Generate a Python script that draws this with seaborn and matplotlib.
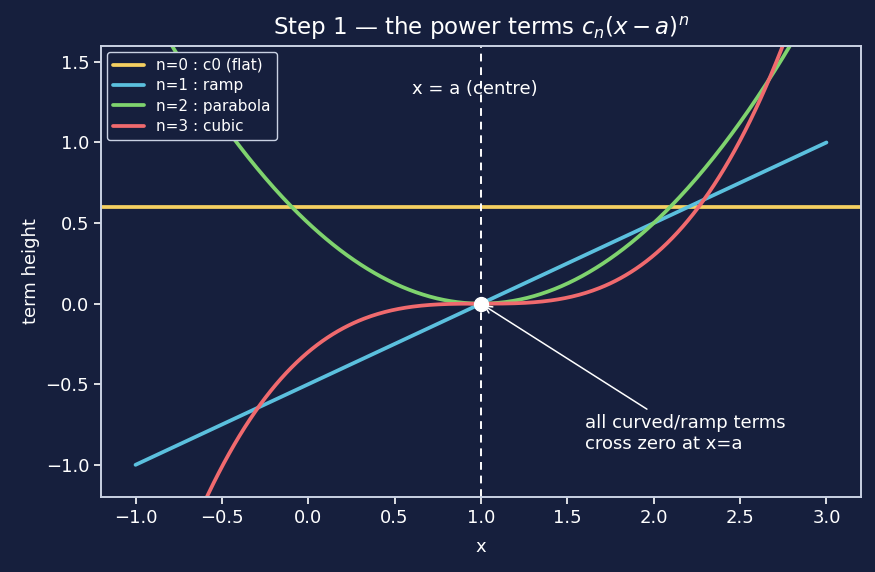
import numpy as np
import pandas as pd
import seaborn as sns
import matplotlib.pyplot as plt

# coefficients c_n of the terms c_n (x - a)^n, centre a
a = 1.0
coefs = [0.6, 0.5, 0.5, 0.3]
labels = ["n=0 : c0 (flat)", "n=1 : ramp", "n=2 : parabola", "n=3 : cubic"]
colors = ["#f5d061", "#5bc0de", "#7fd36e", "#f06a6e"]
x_min, x_max = -1.0, 3.0

bg = "#161f3d"
fg = "#ffffff"
edge = "#c9d1e3"

sns.set_theme(style="dark")
plt.rcParams.update({
    "figure.facecolor": bg, "axes.facecolor": bg, "axes.edgecolor": edge,
    "axes.labelcolor": fg, "xtick.color": fg, "ytick.color": fg,
    "text.color": fg, "xtick.bottom": True, "ytick.left": True,
})
plt.rcParams["font.family"] = ["DejaVu Sans"]

xs = np.linspace(x_min, x_max, 400)
rows = []
for n, (c, lab) in enumerate(zip(coefs, labels)):
    rows.append(pd.DataFrame({"x": xs, "y": c * (xs - a) ** n, "term": lab}))
df = pd.concat(rows)

fig, ax = plt.subplots(figsize=(8.75, 5.72), dpi=100)
sns.lineplot(data=df, x="x", y="y", hue="term", palette=colors, linewidth=2.7, ax=ax)
# constant term drawn across the whole axis
ax.lines[0].set_visible(False)
ax.axhline(coefs[0], color=colors[0], lw=2.7, zorder=1)

ax.axvline(a, color=fg, ls="--", lw=1.4, dashes=(4, 3))
ax.plot([a], [0], "o", color=fg, ms=10, zorder=5)
ax.text(0.6, 1.3, "x = a (centre)", fontsize=13)
ax.annotate("all curved/ramp terms\ncross zero at x=a", xy=(a, 0), xytext=(1.6, -0.9),
            fontsize=13, arrowprops=dict(arrowstyle="->", color=fg, lw=1.1))

ax.set_xlim(-1.2, 3.2)
ax.set_ylim(-1.2, 1.6)
ax.set_xlabel("x", fontsize=13, labelpad=8)
ax.set_ylabel("term height", fontsize=13)
ax.set_title("Step 1 — the power terms $c_n(x-a)^n$", fontsize=16.5, color=fg, pad=8)
ax.tick_params(labelsize=13, length=5, width=1.2)
for s in ax.spines.values():
    s.set_color(edge)
    s.set_linewidth(1.4)

handles, labs = ax.get_legend_handles_labels()
handles[0] = plt.Line2D([], [], color=colors[0], lw=2.7)
leg = ax.legend(handles, labs, loc="upper left", fontsize=11, facecolor=bg,
                edgecolor=edge, labelcolor=fg, framealpha=1,
                borderaxespad=0.4, labelspacing=0.35)

fig.subplots_adjust(left=0.1154, right=0.984, bottom=0.131, top=0.92)
fig.savefig("out.png", dpi=100)
